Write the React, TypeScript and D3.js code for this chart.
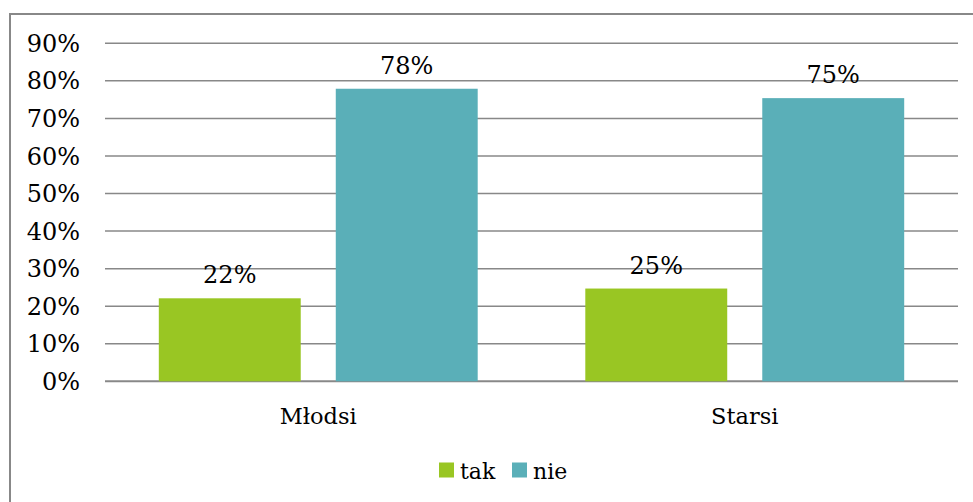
import React from "react";
import * as d3 from "d3";

const categories = ["Młodsi", "Starsi"];
const seriesNames = ["tak", "nie"];
const takValues = [22, 25];
const nieValues = [78, 75];
const yTicks = [0, 10, 20, 30, 40, 50, 60, 70, 80, 90];

// bar heights in the picture sit slightly off the rounded labels
const takExact = [22.1, 24.7];
const nieExact = [77.9, 75.4];

const colors = ["#99C623", "#5AAFB8"];

export default function App() {
  const width = 973;
  const height = 502;
  const margin = { left: 105, right: 15, top: 43.3, bottom: 120.7 };
  const font = "'DejaVu Serif', 'Liberation Serif', serif";

  const x0 = d3
    .scaleBand<string>()
    .domain(categories)
    .range([margin.left, width - margin.right])
    .paddingInner(0)
    .paddingOuter(0);

  const x1 = d3
    .scaleBand<string>()
    .domain(seriesNames)
    .range([0, x0.bandwidth()])
    .paddingInner(0.198)
    .paddingOuter(0.304);

  const y = d3
    .scaleLinear()
    .domain([0, 90])
    .range([height - margin.bottom, margin.top]);

  const rows = categories.map((c, i) => ({
    category: c,
    values: [
      { key: "tak", label: takValues[i], v: takExact[i] },
      { key: "nie", label: nieValues[i], v: nieExact[i] },
    ],
  }));

  return (
    <div style={{ position: "fixed", left: 0, top: 0 }}>
      <svg width={width} height={height} style={{ display: "block", background: "#fff" }}>
        {/* chart frame, running off the bottom/right of the page */}
        <rect x={10} y={14} width={1000} height={1000} fill="none" stroke="#888" strokeWidth={2} />

        {yTicks.map((t) => (
          <g key={t}>
            <line
              x1={margin.left}
              x2={width - margin.right}
              y1={y(t)}
              y2={y(t)}
              stroke="#888"
              strokeWidth={t === 0 ? 2 : 1.5}
            />
            <text
              x={80}
              y={y(t)}
              dy="0.36em"
              textAnchor="end"
              fontFamily={font}
              fontSize={24}
              fill="#000"
            >
              {t}%
            </text>
          </g>
        ))}

        {rows.map((r) => (
          <g key={r.category} transform={`translate(${x0(r.category)},0)`}>
            {r.values.map((d, j) => (
              <g key={d.key}>
                <rect
                  x={x1(d.key)}
                  y={y(d.v)}
                  width={x1.bandwidth()}
                  height={y(0) - y(d.v)}
                  fill={colors[j]}
                />
                <text
                  x={(x1(d.key) ?? 0) + x1.bandwidth() / 2}
                  y={y(d.v) - 15}
                  textAnchor="middle"
                  fontFamily={font}
                  fontSize={24}
                  fill="#000"
                >
                  {d.label}%
                </text>
              </g>
            ))}
            <text
              x={x0.bandwidth() / 2}
              y={424}
              textAnchor="middle"
              fontFamily={font}
              fontSize={22.5}
              fill="#000"
            >
              {r.category}
            </text>
          </g>
        ))}

        <g transform="translate(439,462.5)">
          {seriesNames.map((s, i) => (
            <g key={s} transform={`translate(${i * 73},0)`}>
              <rect width={15} height={15} fill={colors[i]} />
              <text x={21} y={16} fontFamily={font} fontSize={22} fill="#000">
                {s}
              </text>
            </g>
          ))}
        </g>
      </svg>
    </div>
  );
}
